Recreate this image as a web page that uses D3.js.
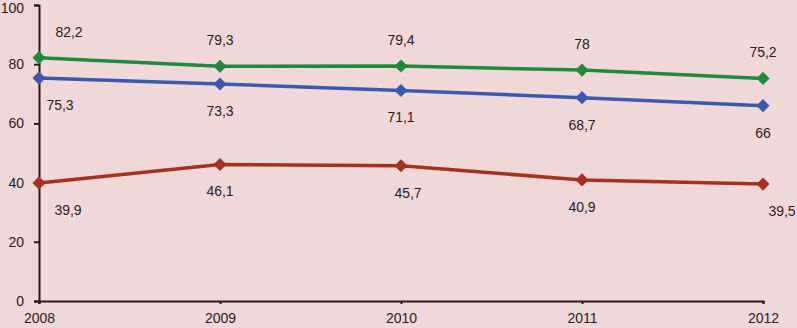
<!DOCTYPE html>
<html>
<head>
<meta charset="utf-8">
<script src="https://cdn.jsdelivr.net/npm/d3@7"></script>
<style>
  html, body { margin: 0; padding: 0; background: #f0d8d9; }
  #idMyCanvas { width: 797px; height: 328px; }
</style>
</head>
<body>
<div id="idMyCanvas"></div>
<script>
// Data
// -------------------
let years = ["2008", "2009", "2010", "2011", "2012"];
let green_vals = [82.2, 79.3, 79.4, 78, 75.2];
let blue_vals = [75.3, 73.3, 71.1, 68.7, 66];
let red_vals = [39.9, 46.1, 45.7, 40.9, 39.5];
let y_ticks = [0, 20, 40, 60, 80, 100];
// -------------------

let canvas_w = 797;
let canvas_h = 328;

let svg_obj = d3.select("#idMyCanvas")
                .append("svg")
                  .attr("width", canvas_w)
                  .attr("height", canvas_h)
                  .attr("xmlns", "http://www.w3.org/2000/svg");

svg_obj.append("rect")
  .attr("width", canvas_w)
  .attr("height", canvas_h)
  .attr("fill", "#f0d8d9");

let font_family = "'Liberation Sans', Arial, sans-serif";
let font_size = 14; // px
let text_col = "#2a1c1c";
let axis_col = "#2b1818";

let x_scale = d3.scalePoint().domain(years).range([39, 763]);
let y_scale = d3.scaleLinear().domain([0, 100]).range([301, 5]);

// Axes
// -------------------
let y_axis = svg_obj.append("g")
  .attr("transform", "translate(39,0)")
  .call(d3.axisLeft(y_scale).tickValues(y_ticks).tickSize(5).tickPadding(10));

let x_axis = svg_obj.append("g")
  .attr("transform", "translate(0,301)")
  .call(d3.axisBottom(x_scale).tickSize(3).tickPadding(9));

[y_axis, x_axis].forEach(function (ax) {
  ax.select(".domain").attr("stroke", axis_col).attr("stroke-width", 2);
  ax.selectAll(".tick line").attr("stroke", axis_col).attr("stroke-width", 2);
  ax.selectAll(".tick text")
    .attr("fill", text_col)
    .style("font-family", font_family)
    .style("font-size", font_size + "px");
});

// keep the top label inside the picture
y_axis.selectAll(".tick text")
  .filter(function (d) { return d === 100; })
  .attr("dy", "0.55em");
// -------------------

// Series
// -------------------
let series = [
  { vals: green_vals, color: "#1f8a3b", pos: -1, nudge: [30, 0, 0, 0, 0] },
  { vals: blue_vals, color: "#3a59ae", pos: 1, nudge: [21, 0, 0, 0, 0] },
  { vals: red_vals, color: "#a5321f", pos: 1, nudge: [29, 0, 7, 0, 19] }
];

let line_gen = d3.line()
  .x(function (d, i) { return x_scale(years[i]); })
  .y(function (d) { return y_scale(d); });

let diamond = d3.symbol().type(d3.symbolDiamond2).size(110);

series.forEach(function (s) {
  svg_obj.append("path")
    .attr("d", line_gen(s.vals))
    .attr("fill", "none")
    .attr("stroke", s.color)
    .attr("stroke-width", 3.5);

  svg_obj.selectAll(null)
    .data(s.vals)
    .enter()
    .append("path")
      .attr("d", diamond)
      .attr("transform", function (d, i) {
        return "translate(" + x_scale(years[i]) + "," + y_scale(d) + ")";
      })
      .attr("fill", s.color);

  svg_obj.selectAll(null)
    .data(s.vals)
    .enter()
    .append("text")
      .attr("x", function (d, i) { return x_scale(years[i]) + s.nudge[i]; })
      .attr("y", function (d) { return y_scale(d) + (s.pos < 0 ? -26 : 27); })
      .attr("dy", "0.35em")
      .attr("text-anchor", "middle")
      .attr("fill", text_col)
      .style("font-family", font_family)
      .style("font-size", font_size + "px")
      .text(function (d) { return String(d).replace(".", ","); });
});
// -------------------
</script>
</body>
</html>
